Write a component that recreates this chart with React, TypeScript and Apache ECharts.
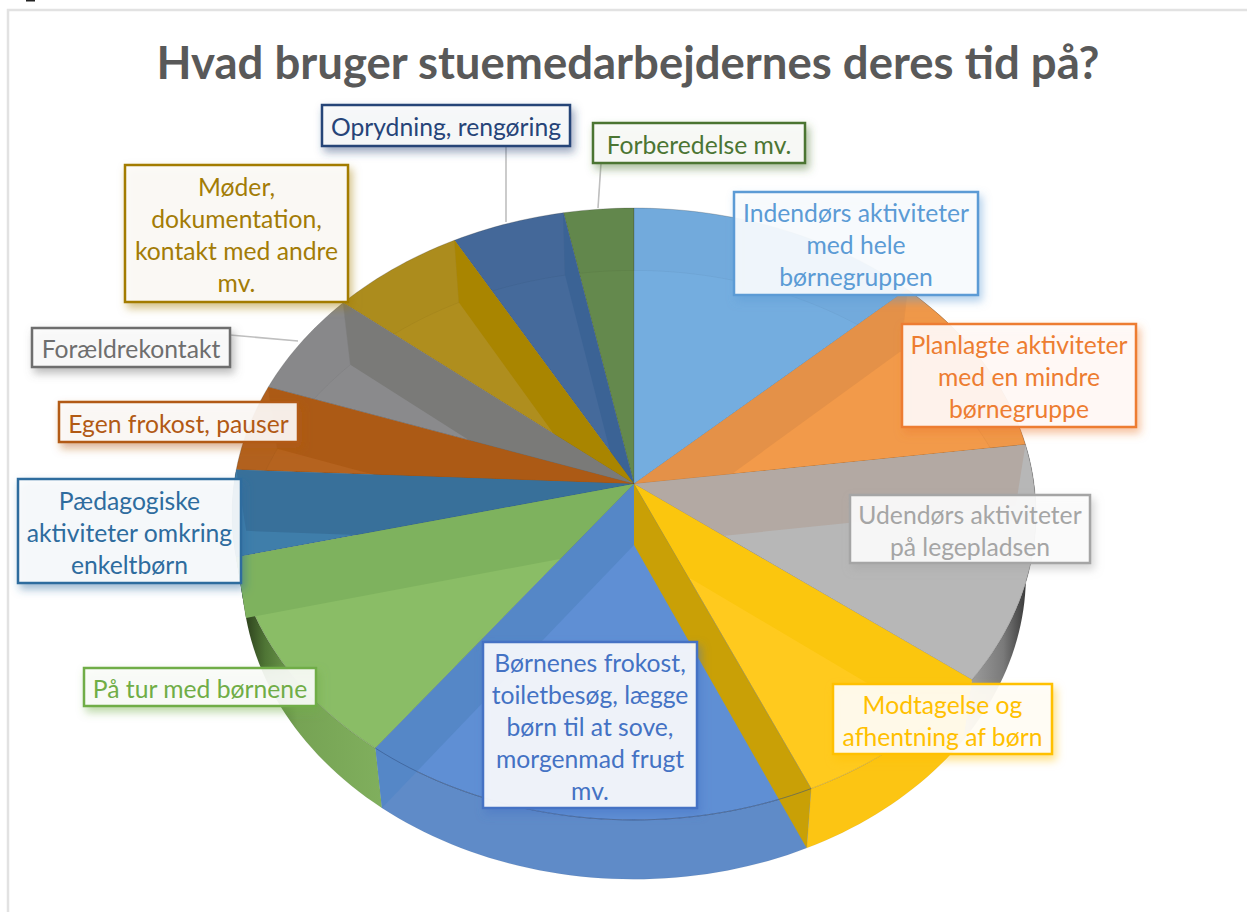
import React, { useEffect, useRef } from "react";
import * as echarts from "echarts";

const titleText = "Hvad bruger stuemedarbejdernes deres tid på?";
const categories = [
  "Indendørs aktiviteter med hele børnegruppen",
  "Planlagte aktiviteter med en mindre børnegruppe",
  "Udendørs aktiviteter på legepladsen",
  "Modtagelse og afhentning af børn",
  "Børnenes frokost, toiletbesøg, lægge børn til at sove, morgenmad frugt mv.",
  "På tur med børnene",
  "Pædagogiske aktiviteter omkring enkeltbørn",
  "Egen frokost, pauser",
  "Forældrekontakt",
  "Møder, dokumentation, kontakt med andre mv.",
  "Oprydning, rengøring",
  "Forberedelse mv.",
];
const shareValues = [13.0, 9.9, 12.5, 8.0, 16.75, 11.05, 4.55, 4.6, 5.6, 5.95, 5.0, 3.1];
const labelLines = [
  ["Indendørs aktiviteter", "med hele", "børnegruppen"],
  ["Planlagte aktiviteter", "med en mindre", "børnegruppe"],
  ["Udendørs aktiviteter", "på legepladsen"],
  ["Modtagelse og", "afhentning af børn"],
  ["Børnenes frokost,", "toiletbesøg, lægge", "børn til at sove,", "morgenmad frugt", "mv."],
  ["På tur med børnene"],
  ["Pædagogiske", "aktiviteter omkring", "enkeltbørn"],
  ["Egen frokost, pauser"],
  ["Forældrekontakt"],
  ["Møder,", "dokumentation,", "kontakt med andre", "mv."],
  ["Oprydning, rengøring"],
  ["Forberedelse mv."],
];
const labelColors = ["#5B9BD5", "#ED7D31", "#A5A5A5", "#FFC000", "#4472C4", "#70AD47", "#2E6C9E", "#B25A14", "#6E6E6E", "#A37C06", "#264478", "#4B7533"];
const topColors = ["#74ADDF", "#F29A4A", "#B7B7B7", "#FFCA1E", "#5F8FD4", "#8ABD66", "#3F7EAA", "#B5631F", "#8A8A8C", "#AF8E1E", "#456A9B", "#64894D"];
const wallColors = ["#E49148", "#B3A9A3", "#FBC60E", "#C9A006", "#5587C7", "#7EB25E", "#38709A", "#AC5A15", "#7A7A78", "#A98500", "#3B6395", "#5E8547"];
// [left, top, width, height] of each label box
const labelBoxes = [
  [734, 192, 244, 103], [902, 324, 234, 103], [850, 495, 240, 68], [833, 684, 219, 70],
  [483, 642, 214, 166], [84, 668, 232, 38], [18, 479, 223, 104], [59, 402, 239, 40],
  [32, 328, 198, 39], [125, 165, 223, 137], [322, 105, 248, 41], [593, 123, 212, 40],
];
const leaderLines = [
  { color: "#BFBFBF", points: [[506, 146], [506, 222]] },
  { color: "#BFBFBF", points: [[601, 163], [598, 208]] },
  { color: "#BFBFBF", points: [[230, 335], [298, 341]] },
];

// Pie projection (a circle seen in perspective)
const CX = 634, CY = 484, RX = 400, RY = 303, K = 0.098;
const DEPTH = 61, BOTTOM_SX = 0.975, BOTTOM_SY = 0.995;

const total = shareValues.reduce((a, b) => a + b, 0);
const starts: number[] = [];
shareValues.reduce((acc, v, i) => { starts[i] = acc; return acc + v; }, 0);

function rimPoint(angle: number, bottom: boolean): number[] {
  const u = Math.sin(angle), v = -Math.cos(angle);
  const w = 1 - K * v;
  const dx = (RX * u) / w, dy = (RY * v) / w;
  return bottom
    ? [CX + dx * BOTTOM_SX, CY + DEPTH + dy * BOTTOM_SY]
    : [CX + dx, CY + dy];
}
function arc(i: number, bottom: boolean): number[][] {
  const a0 = (starts[i] / total) * Math.PI * 2;
  const a1 = ((starts[i] + shareValues[i]) / total) * Math.PI * 2;
  const n = Math.max(2, Math.ceil((a1 - a0) * 40));
  const pts: number[][] = [];
  for (let k = 0; k <= n; k++) pts.push(rimPoint(a0 + ((a1 - a0) * k) / n, bottom));
  return pts;
}
const hShade = (stops: [number, string][]) =>
  new echarts.graphic.LinearGradient(0, 0, 1, 0, stops.map(([offset, color]) => ({ offset, color })));

const rimFill: Record<number, any> = {
  1: "#C8762E",
  2: hShade([[0, "#A4A4A4"], [0.55, "#7A7A7A"], [1, "#1E1E1E"]]),
  3: "#FCC513",
  4: "#5F8BC8",
  5: hShade([[0, "#1E2A12"], [0.2, "#4F7535"], [0.42, "#76A354"], [1, "#80AF5D"]]),
  6: "#12304A",
};

type Step = ["rim" | "top" | "back" | "wall" | "line", number];
const paintOrder: Step[] = [
  ["rim", 1], ["rim", 2], ["rim", 3], ["rim", 4], ["rim", 5], ["rim", 6],
  ["top", 11], ["back", 11], ["wall", 11],
  ["top", 10], ["back", 10], ["wall", 10],
  ["top", 9], ["back", 9], ["wall", 9],
  ["top", 8], ["back", 8], ["wall", 8],
  ["top", 7], ["back", 7], ["wall", 7],
  ["top", 6], ["wall", 6],
  ["top", 5], ["wall", 5],
  ["top", 0], ["back", 0],
  ["top", 1], ["back", 1], ["wall", 0],
  ["top", 2], ["wall", 1],
  ["top", 3], ["wall", 2],
  ["top", 4], ["wall", 4], ["wall", 3],
  ["line", 4],
];

function renderStep(params: any) {
  const [kind, i] = paintOrder[params.dataIndex];
  const topArc = arc(i, false);
  const bottomArc = arc(i, true);
  const centre = [CX, CY];
  const centreBottom = [CX, CY + DEPTH];
  if (kind === "rim") {
    return {
      type: "polygon",
      shape: { points: [...topArc, ...bottomArc.slice().reverse()] },
      style: { fill: rimFill[i], stroke: "rgba(0,0,0,0.08)", lineWidth: 0.5 },
    };
  }
  if (kind === "top") {
    return {
      type: "polygon",
      shape: { points: [centre, ...topArc] },
      style: { fill: topColors[i], stroke: "rgba(60,60,60,0.25)", lineWidth: 0.8 },
    };
  }
  if (kind === "back") {
    return {
      type: "polygon",
      shape: { points: [...topArc, ...bottomArc.slice().reverse()] },
      style: { fill: "rgba(0,0,0,0.012)", stroke: "rgba(0,0,0,0.05)", lineWidth: 0.8 },
    };
  }
  if (kind === "line") {
    return {
      type: "polyline",
      shape: { points: topArc },
      style: { fill: "none", stroke: "rgba(50,80,130,0.55)", lineWidth: 1 },
    };
  }
  const endTop = topArc[topArc.length - 1];
  const endBottom = bottomArc[bottomArc.length - 1];
  return {
    type: "polygon",
    shape: { points: [centre, endTop, endBottom, centreBottom] },
    style: { fill: wallColors[i] },
  };
}

function withAlpha(hex: string, alpha: number) {
  const n = parseInt(hex.slice(1), 16);
  return `rgba(${(n >> 16) & 255},${(n >> 8) & 255},${n & 255},${alpha})`;
}

function labelGraphics() {
  const items: any[] = [];
  labelLines.forEach((lines, i) => {
    const [x, y, w, h] = labelBoxes[i];
    items.push({
      type: "rect",
      z: 20,
      shape: { x, y, width: w, height: h },
      style: {
        fill: "rgba(255,255,255,0.9)",
        stroke: labelColors[i],
        lineWidth: 2.5,
        shadowBlur: 9,
        shadowColor: withAlpha(labelColors[i], 0.5),
        shadowOffsetX: 3,
        shadowOffsetY: 5,
      },
    });
    items.push({
      type: "rect",
      z: 20,
      shape: { x: x + 1, y: y + 1, width: w - 2, height: h - 2 },
      style: { fill: withAlpha(labelColors[i], 0.025) },
    });
    items.push({
      type: "text",
      z: 21,
      x: x + w / 2,
      y: y + h / 2 + 1,
      style: {
        text: lines.join("\n"),
        fill: labelColors[i],
        font: "400 24.7px Lato, sans-serif",
        lineHeight: 32,
        align: "center",
        verticalAlign: "middle",
      },
    });
  });
  return items;
}

export default function App() {
  const ref = useRef<HTMLDivElement>(null);
  useEffect(() => {
    const chart = echarts.init(ref.current!, undefined, { renderer: "svg" });
    chart.setOption({
      animation: false,
      backgroundColor: "#FFFFFF",
      title: {
        text: titleText,
        left: 623,
        top: 33,
        textAlign: "center",
        textStyle: { color: "#595959", fontFamily: "Lato, sans-serif", fontWeight: 700, fontSize: 45.5 },
      },
      graphic: [
        {
          type: "polyline",
          z: 1,
          shape: { points: [[8, 912], [8, 10], [1247, 10]] },
          style: { fill: "none", stroke: "#E2E2E2", lineWidth: 2.5 },
        },
        {
          type: "line",
          z: 1,
          shape: { x1: 26, y1: 0.5, x2: 35, y2: 0.5 },
          style: { stroke: "#222222", lineWidth: 2 },
        },
        ...leaderLines.map((l) => ({
          type: "polyline",
          z: 10,
          shape: { points: l.points },
          style: { fill: "none", stroke: l.color, lineWidth: 1.6 },
        })),
        ...labelGraphics(),
      ],
      series: [
        {
          type: "custom",
          name: "Tid",
          coordinateSystem: "none",
          silent: true,
          clip: false,
          z: 5,
          data: paintOrder.map(([, i]) => ({ name: categories[i], value: shareValues[i] })),
          renderItem: renderStep,
        },
      ],
    });
    return () => chart.dispose();
  }, []);
  return <div ref={ref} style={{ position: "fixed", left: 0, top: 0, width: 1247, height: 912 }} />;
}
